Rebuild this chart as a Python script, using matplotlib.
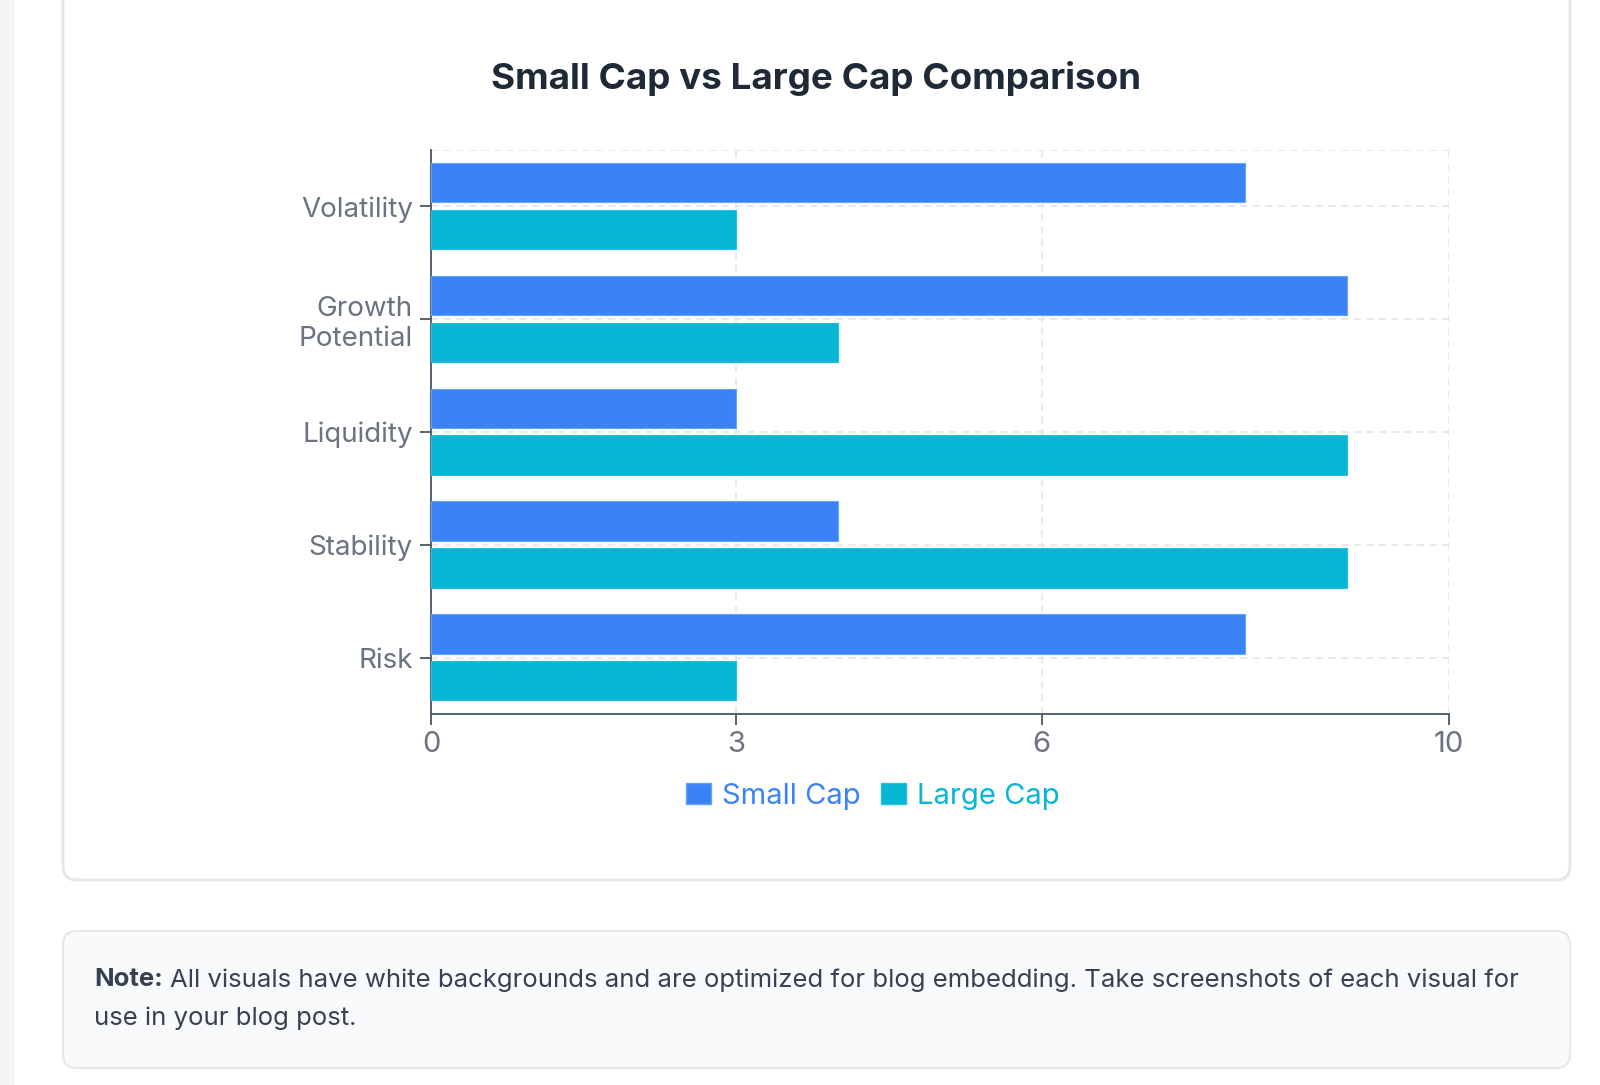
import matplotlib
matplotlib.use('Agg')
import matplotlib.pyplot as plt
from matplotlib.patches import FancyBboxPatch, Rectangle, Patch
import numpy as np

plt.rcParams['font.family'] = ['Inter', 'DejaVu Sans']

# data
categories = ['Volatility', 'Growth\nPotential', 'Liquidity', 'Stability', 'Risk']
small_cap = [8, 9, 3, 4, 8]
large_cap = [3, 4, 9, 9, 3]
series_names = ['Small Cap', 'Large Cap']
x_ticks = [0, 3, 6, 10]

blue = '#3b82f6'
cyan = '#06b6d4'
grid_c = '#e5e7eb'
tick_c = '#6b7280'
axis_c = '#4b5563'

W, H = 1600, 1085
fig = plt.figure(figsize=(W / 100, H / 100), dpi=100)
fig.patch.set_facecolor('white')

# page background drawn in pixel space
bg = fig.add_axes([0, 0, 1, 1], zorder=-5)
bg.set_xlim(0, W)
bg.set_ylim(H, 0)
bg.axis('off')
bg.add_patch(Rectangle((0, 0), 15, H, facecolor='#f3f4f6', edgecolor='none'))
bg.add_patch(FancyBboxPatch((63, -40), 1507, 920, boxstyle='round,pad=0,rounding_size=14',
                            facecolor='white', edgecolor='#e5e7eb', linewidth=2.2))
bg.add_patch(FancyBboxPatch((63, 931), 1507, 137, boxstyle='round,pad=0,rounding_size=14',
                            facecolor='#f9fafb', edgecolor='#e5e7eb', linewidth=1.5))

bg.text(816, 78, 'Small Cap vs Large Cap Comparison', ha='center', va='center',
        fontsize=26.5, fontweight='bold', color='#1f2937')

# note text
note_bold = bg.text(94, 980, 'Note:', ha='left', va='center', fontsize=18.5,
                    fontweight='bold', color='#374151')
fig.canvas.draw()
bb = note_bold.get_window_extent()
bg.text(94 + bb.width + 7, 980,
        'All visuals have white backgrounds and are optimized for blog embedding. '
        'Take screenshots of each visual for', ha='left', va='center', fontsize=18.5, color='#374151')
bg.text(94, 1018, 'use in your blog post.', ha='left', va='center', fontsize=18.5, color='#374151')

# chart
ax = fig.add_axes([431 / W, 1 - 714 / H, (1449 - 431) / W, (714 - 150) / H])
y = np.arange(len(categories))
h = 0.35
ax.barh(y - 0.21, small_cap, height=h, color=blue, edgecolor='#60a5fa', linewidth=0.8, zorder=3)
ax.barh(y + 0.205, large_cap, height=h, color=cyan, edgecolor='#22c3e0', linewidth=0.8, zorder=3)

ax.set_xlim(0, 10)
ax.set_ylim(len(categories) - 0.5, -0.5)
ax.set_xticks(x_ticks)
ax.set_xticklabels([str(t) for t in x_ticks])
ax.set_yticks(y)
ax.set_yticklabels(categories, linespacing=1.2)

for t in x_ticks[1:]:
    ax.axvline(t, color=grid_c, linestyle=(0, (4, 3)), linewidth=1.3, zorder=1)
for yy in list(y) + [-0.5]:
    ax.axhline(yy, color=grid_c, linestyle=(0, (4, 3)), linewidth=1.3, zorder=1)

for s in ['top', 'right']:
    ax.spines[s].set_visible(False)
for s in ['left', 'bottom']:
    ax.spines[s].set_color(axis_c)
    ax.spines[s].set_linewidth(1.3)
ax.tick_params(axis='both', colors=axis_c, labelcolor=tick_c, labelsize=21,
               length=8, width=1.3)
ax.tick_params(axis='y', pad=5, labelsize=20)
ax.tick_params(axis='x', pad=4)

handles = [Patch(facecolor=blue, edgecolor='#60a5fa'), Patch(facecolor=cyan, edgecolor='#22c3e0')]
bg.legend(handles, series_names, loc='center', bbox_to_anchor=(873, 796),
          bbox_transform=bg.transData, ncol=2, frameon=False, fontsize=21,
          labelcolor=[blue, cyan], handlelength=0.85, handleheight=0.75,
          handletextpad=0.38, columnspacing=0.7, borderpad=0)

fig.savefig('out.png', dpi=100, facecolor='white')
